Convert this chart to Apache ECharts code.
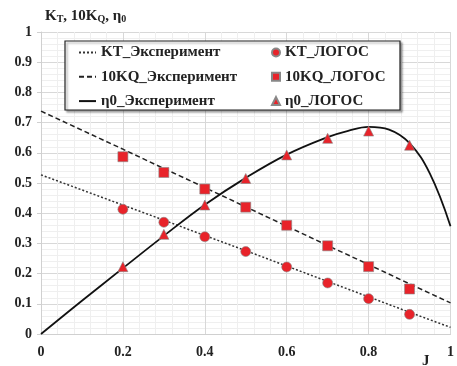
<!DOCTYPE html>
<html>
<head>
<meta charset="utf-8">
<script src="https://cdn.jsdelivr.net/npm/echarts@6/dist/echarts.min.js"></script>
<style>html,body{margin:0;padding:0;background:#fff}#c{width:457px;height:366px}</style>
</head>
<body>
<div id="c"></div>
<script>
// Experiment curves (J vs value)
var expJ      = [0, 0.1, 0.2, 0.3, 0.4, 0.5, 0.6, 0.7, 0.8, 0.9, 1.0];
var ktExp     = [0.527, 0.477, 0.427, 0.377, 0.326, 0.276, 0.225, 0.174, 0.123, 0.072, 0.022];
var kq10Exp   = [0.738, 0.675, 0.612, 0.548, 0.485, 0.421, 0.357, 0.293, 0.230, 0.166, 0.103];
var etaJ      = [0, 0.1, 0.2, 0.3, 0.4, 0.5, 0.6, 0.7, 0.75, 0.8, 0.85, 0.9, 0.95, 1.0];
var etaExp    = [0, 0.11, 0.218, 0.325, 0.428, 0.517, 0.594, 0.652, 0.673, 0.686, 0.677, 0.632, 0.53, 0.357];
// LOGOS computations
var logosJ    = [0.2, 0.3, 0.4, 0.5, 0.6, 0.7, 0.8, 0.9];
var ktLogos   = [0.413, 0.370, 0.322, 0.273, 0.222, 0.169, 0.117, 0.065];
var kq10Logos = [0.587, 0.535, 0.480, 0.420, 0.360, 0.292, 0.223, 0.149];
var etaLogos  = [0.223, 0.330, 0.427, 0.515, 0.593, 0.648, 0.672, 0.625];
var xTicks    = ['0', '0.2', '0.4', '0.6', '0.8', '1'];

function pairs(xs, ys) { return xs.map(function (x, i) { return [x, ys[i]]; }); }

var font = '"Liberation Serif", "Times New Roman", serif';
var red = '#e8232a';
var hidden = { opacity: 0 };
var chart = echarts.init(document.getElementById('c'));
chart.setOption({
  animation: false,
  backgroundColor: '#fff',
  grid: { left: 41, right: 2, top: 32, bottom: 32 },
  xAxis: {
    type: 'value', min: 0, max: 1, interval: 0.2,
    axisLine: { show: true, lineStyle: { color: '#d0d0d0' } },
    axisTick: { show: false },
    axisLabel: { color: '#222', fontFamily: font, fontWeight: 'bold', fontSize: 14, margin: 11,
      formatter: function (v) { var i = Math.round(v / 0.2); return xTicks[i]; } },
    splitLine: { show: true, lineStyle: { color: '#d8d8d8', width: 1 } },
    minorTick: { show: false, splitNumber: 5 },
    minorSplitLine: { show: true, lineStyle: { color: '#efefef', width: 1 } }
  },
  yAxis: {
    type: 'value', min: 0, max: 1, interval: 0.1,
    axisLine: { show: true, lineStyle: { color: '#d0d0d0' } },
    axisTick: { show: true, length: 4, lineStyle: { color: '#d0d0d0' } },
    axisLabel: { color: '#222', fontFamily: font, fontWeight: 'bold', fontSize: 14, margin: 9 },
    splitLine: { show: true, lineStyle: { color: '#d8d8d8', width: 1 } },
    minorTick: { show: false, splitNumber: 5 },
    minorSplitLine: { show: true, lineStyle: { color: '#efefef', width: 1 } }
  },
  legend: [{
    orient: 'vertical', left: 73, top: 40, itemWidth: 17, itemHeight: 12, itemGap: 9.3, z: 10,
    textStyle: { fontFamily: font, fontWeight: 'bold', fontSize: 15, color: '#222', lineHeight: 14 },
    data: [
      { name: 'KT_Эксперимент', itemStyle: hidden },
      { name: '10KQ_Эксперимент', itemStyle: hidden },
      { name: 'η0_Эксперимент', itemStyle: hidden }
    ]
  }, {
    orient: 'vertical', left: 266, top: 40, itemWidth: 8, itemHeight: 8, itemGap: 9.3, z: 10,
    textStyle: { fontFamily: font, fontWeight: 'bold', fontSize: 15, color: '#222', lineHeight: 14 },
    data: ['KT_ЛОГОС', '10KQ_ЛОГОС', 'η0_ЛОГОС']
  }],
  graphic: [{
    type: 'rect', z: 5, shape: { x: 65, y: 41, width: 335, height: 69 },
    style: { fill: '#fff', stroke: '#222', lineWidth: 1.2, shadowColor: 'rgba(0,0,0,0.35)', shadowOffsetX: 2, shadowOffsetY: 2, shadowBlur: 2 }
  }, {
    type: 'text', left: 45, top: 9, z: 10,
    style: {
      text: '{a|K}{s|T}{a|, 10K}{s|Q}{a|, η}{s|0}',
      rich: {
        a: { fontFamily: font, fontWeight: 'bold', fontSize: 15, fill: '#222', lineHeight: 20, verticalAlign: 'bottom' },
        s: { fontFamily: font, fontWeight: 'bold', fontSize: 10, fill: '#222', lineHeight: 20, verticalAlign: 'bottom' }
      }
    }
  }, {
    type: 'text', left: 422, top: 354, z: 10,
    style: { text: 'J', fontFamily: font, fontWeight: 'bold', fontSize: 15, fill: '#222' }
  }],
  series: [{
    name: 'KT_Эксперимент', type: 'line', data: pairs(expJ, ktExp), symbol: 'none',
    lineStyle: { color: '#333', width: 1.5, type: [2, 2] }, itemStyle: { color: '#333' }, z: 3
  }, {
    name: '10KQ_Эксперимент', type: 'line', data: pairs(expJ, kq10Exp), symbol: 'none',
    lineStyle: { color: '#222', width: 1.5, type: [5, 3] }, itemStyle: { color: '#222' }, z: 3
  }, {
    name: 'η0_Эксперимент', type: 'line', data: pairs(etaJ, etaExp), symbol: 'none', smooth: 0.4,
    lineStyle: { color: '#111', width: 1.8 }, itemStyle: { color: '#111' }, z: 3
  }, {
    name: 'KT_ЛОГОС', type: 'scatter', data: pairs(logosJ, ktLogos), symbol: 'circle', symbolSize: 10,
    itemStyle: { color: red, borderColor: '#888', borderWidth: 0.6, opacity: 1 }, z: 4
  }, {
    name: '10KQ_ЛОГОС', type: 'scatter', data: pairs(logosJ, kq10Logos), symbol: 'rect', symbolSize: 10,
    itemStyle: { color: red, borderColor: '#888', borderWidth: 0.6, opacity: 1 }, z: 4
  }, {
    name: 'η0_ЛОГОС', type: 'scatter', data: pairs(logosJ, etaLogos), symbol: 'triangle', symbolSize: 10,
    itemStyle: { color: red, borderColor: '#888', borderWidth: 0.6, opacity: 1 }, z: 4
  }]
});
</script>
</body>
</html>
